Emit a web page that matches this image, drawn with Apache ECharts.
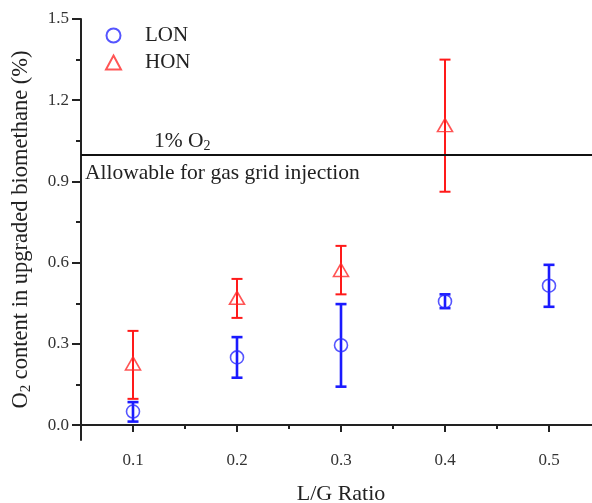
<!DOCTYPE html>
<html>
<head>
<meta charset="utf-8">
<script src="https://cdn.jsdelivr.net/npm/echarts@6/dist/echarts.min.js"></script>
<style>
html,body{margin:0;padding:0;background:#fff;}
#main{width:592px;height:503px;}
</style>
</head>
<body>
<div id="main"></div>
<script>
// 数据
const lgRatio = [0.1, 0.2, 0.3, 0.4, 0.5];
const lonMean = [0.05, 0.25, 0.295, 0.457, 0.515];
const lonLow = [0.013, 0.175, 0.142, 0.432, 0.437];
const lonHigh = [0.085, 0.325, 0.447, 0.483, 0.592];

const honRatio = [0.1, 0.2, 0.3, 0.4];
const honMean = [0.228, 0.47, 0.573, 1.108];
const honLow = [0.097, 0.396, 0.483, 0.862];
const honHigh = [0.348, 0.54, 0.662, 1.35];

const xLabels = [0.1, 0.2, 0.3, 0.4, 0.5];
const xMinor = [0.1, 0.15, 0.2, 0.25, 0.3, 0.35, 0.4, 0.45, 0.5, 0.55];
const yLabels = [0, 0.3, 0.6, 0.9, 1.2, 1.5];
const yMinor = [0, 0.15, 0.3, 0.45, 0.6, 0.75, 0.9, 1.05, 1.2, 1.35, 1.5];
const limitValue = 1.0;

const FONT = "'Liberation Serif', 'Times New Roman', serif";
const BLUE = '#1a1aff';
const RED = '#ff1a1a';

function errData(xs, lows, highs) {
    return xs.map((x, i) => [x, lows[i], highs[i]]);
}

// 误差棒
function errorBar(color, width) {
    return function (params, api) {
        const top = api.coord([api.value(0), api.value(2)]);
        const bot = api.coord([api.value(0), api.value(1)]);
        const half = 5.5;
        const style = { stroke: color, lineWidth: width };
        return {
            type: 'group',
            children: [
                { type: 'line', shape: { x1: top[0], y1: top[1], x2: bot[0], y2: bot[1] }, style },
                { type: 'line', shape: { x1: top[0] - half, y1: top[1], x2: top[0] + half, y2: top[1] }, style },
                { type: 'line', shape: { x1: bot[0] - half, y1: bot[1], x2: bot[0] + half, y2: bot[1] }, style }
            ]
        };
    };
}

function subText(size) {
    return {
        n: { fontSize: size, fontFamily: FONT, color: '#222' },
        s: { fontSize: Math.round(size * 0.65), fontFamily: FONT, color: '#222', padding: [Math.round(size * 0.45), 0, 0, 0], verticalAlign: 'bottom' }
    };
}

const chart = echarts.init(document.getElementById('main'));

const option = {
    backgroundColor: '#fff',
    animation: false,
    grid: { left: 81, top: 19, width: 520, bottom: 63, outerBoundsMode: 'none', containLabel: false },
    legend: {
        data: ['LON', 'HON'],
        orient: 'vertical',
        left: 100,
        top: 20,
        itemWidth: 15,
        itemHeight: 14,
        itemGap: 6,
        textStyle: { fontFamily: FONT, fontSize: 21, color: '#222', padding: [0, 0, 0, 19] }
    },
    xAxis: [{
        type: 'value',
        min: 0.05,
        max: 0.55,
        name: 'L/G Ratio',
        nameLocation: 'middle',
        nameGap: 43,
        nameTextStyle: { fontFamily: FONT, fontSize: 22, color: '#222' },
        axisLine: { lineStyle: { color: '#222', width: 2 } },
        axisTick: { customValues: xLabels, length: 7, lineStyle: { width: 2 } },
        axisLabel: {
            customValues: xLabels,
            margin: 12,
            fontFamily: FONT, fontSize: 17, color: '#333',
            formatter: v => v.toFixed(1)
        },
        splitLine: { show: false }
    }, {
        type: 'value',
        position: 'bottom',
        min: 0.05,
        max: 0.55,
        axisLine: { show: false },
        axisTick: { customValues: xMinor, length: 4, lineStyle: { color: '#222', width: 2 } },
        axisLabel: { show: false },
        splitLine: { show: false }
    }],
    yAxis: [{
        type: 'value',
        min: -0.055,
        max: 1.5,
        name: '{n|O}{s|2}{n| content in upgraded biomethane (%)}',
        nameLocation: 'middle',
        nameRotate: 90,
        nameGap: 47,
        nameTextStyle: { rich: subText(22.5) },
        axisLine: { show: true, lineStyle: { color: '#222', width: 2 } },
        axisTick: { customValues: yLabels, length: 9, lineStyle: { width: 2 } },
        axisLabel: {
            customValues: yLabels,
            margin: 12,
            fontFamily: FONT, fontSize: 17, color: '#333',
            formatter: v => v.toFixed(1)
        },
        splitLine: { show: false }
    }, {
        type: 'value',
        position: 'left',
        min: -0.055,
        max: 1.5,
        axisLine: { show: false },
        axisTick: { customValues: yMinor, length: 5, lineStyle: { color: '#222', width: 2 } },
        axisLabel: { show: false },
        splitLine: { show: false }
    }],
    series: [
        {
            name: 'LONerr',
            type: 'custom',
            renderItem: errorBar(BLUE, 2.6),
            data: errData(lgRatio, lonLow, lonHigh),
            z: 2,
            silent: true
        },
        {
            name: 'HONerr',
            type: 'custom',
            renderItem: errorBar(RED, 2),
            data: errData(honRatio, honLow, honHigh),
            z: 2,
            silent: true
        },
        {
            name: 'LON',
            type: 'scatter',
            symbol: 'circle',
            symbolSize: 13,
            itemStyle: { color: 'transparent', borderColor: '#2b2bff', borderWidth: 1.6 },
            data: lgRatio.map((x, i) => [x, lonMean[i]]),
            z: 5,
            markLine: {
                silent: true,
                symbol: ['none', 'none'],
                lineStyle: { color: '#111', width: 2, type: 'solid' },
                label: { show: true },
                data: [
                    {
                        yAxis: limitValue,
                        label: {
                            position: 'insideStartTop',
                            formatter: '{n|1% O}{s|2}',
                            padding: [0, 0, 0, 72],
                            distance: 1,
                            rich: subText(21.5)
                        }
                    },
                    {
                        yAxis: limitValue,
                        label: {
                            position: 'insideStartBottom',
                            formatter: 'Allowable for gas grid injection',
                            fontFamily: FONT, fontSize: 21.5, color: '#222',
                            padding: [4, 0, 0, 0],
                            distance: 4
                        }
                    }
                ]
            }
        },
        {
            name: 'HON',
            type: 'scatter',
            symbol: 'triangle',
            symbolSize: [15, 13],
            itemStyle: { color: 'transparent', borderColor: '#ff2b2b', borderWidth: 1.6 },
            data: honRatio.map((x, i) => [x, honMean[i]]),
            z: 5
        }
    ]
};

chart.setOption(option);
</script>
</body>
</html>
